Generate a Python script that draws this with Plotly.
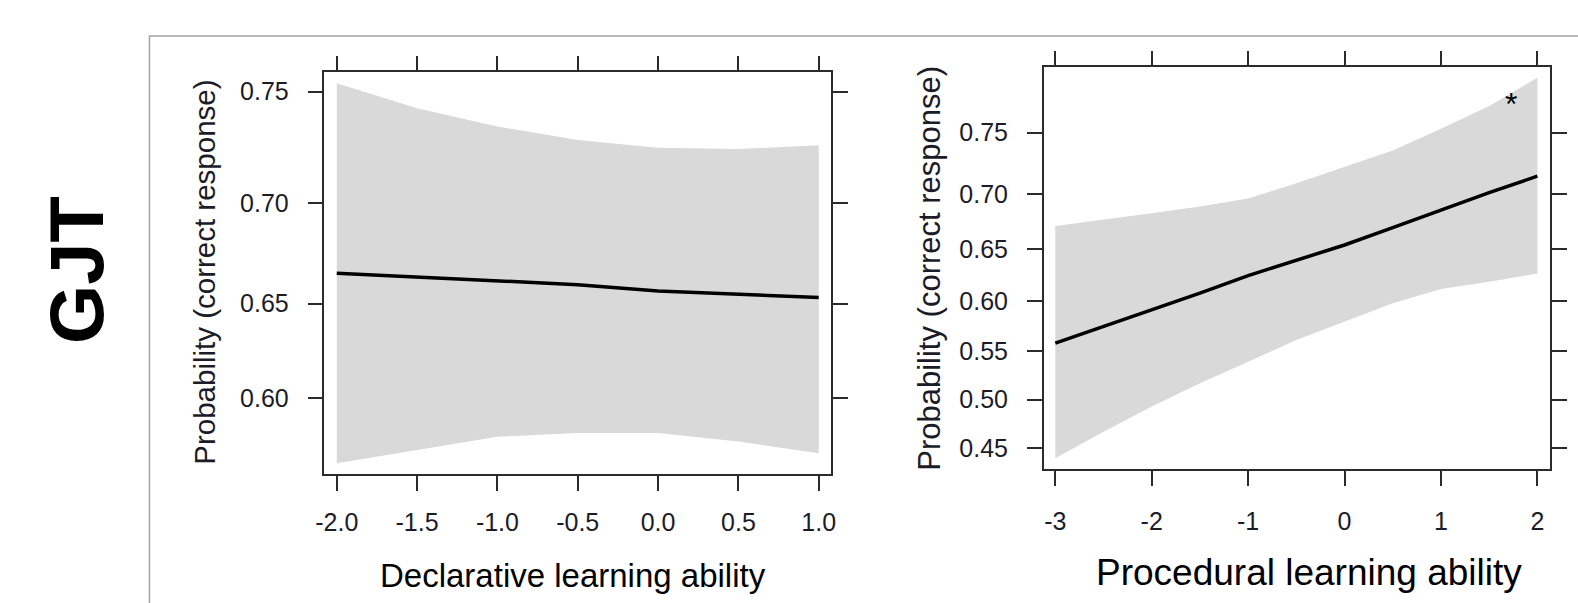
import numpy as np
import plotly.graph_objects as go

# ---- data (probabilities) ----
x_decl = [-2.0, -1.5, -1.0, -0.5, 0.0, 0.5, 1.0]
fit_decl = [0.6655, 0.6635, 0.6617, 0.6597, 0.6565, 0.6548, 0.6531]
upper_decl = [0.7536, 0.7429, 0.7349, 0.7290, 0.7255, 0.7249, 0.7266]
lower_decl = [0.5641, 0.5715, 0.5788, 0.5809, 0.5809, 0.5761, 0.5696]

x_proc = [-3.0, -2.5, -2.0, -1.5, -1.0, -0.5, 0.0, 0.5, 1.0, 1.5, 2.0]
fit_proc = [0.558, 0.575, 0.591, 0.608, 0.625, 0.640, 0.654, 0.670, 0.686, 0.701, 0.715]
upper_proc = [0.6715, 0.677, 0.683, 0.689, 0.696, 0.709, 0.723, 0.736, 0.753, 0.770, 0.790]
lower_proc = [0.440, 0.467, 0.493, 0.517, 0.539, 0.561, 0.580, 0.598, 0.612, 0.619, 0.627]

xticks_decl = [-2.0, -1.5, -1.0, -0.5, 0.0, 0.5, 1.0]
xticklabels_decl = ["-2.0", "-1.5", "-1.0", "-0.5", "0.0", "0.5", "1.0"]
yticks_decl = [0.60, 0.65, 0.70, 0.75]
xticks_proc = [-3, -2, -1, 0, 1, 2]
yticks_proc = [0.45, 0.50, 0.55, 0.60, 0.65, 0.70, 0.75]

star_x, star_p = 1.73, 0.777


def logit(p):
    p = np.asarray(p, dtype=float)
    return np.log(p / (1 - p))


W, H = 1578, 603
BAND = "#d9d9d9"
AX = "#2b2b2b"
FONT = "Liberation Sans, Arial, sans-serif"
TXT = "#1c1c28"

fig = go.Figure()


def add_panel(xs, fit, lo, hi, xa, ya):
    xs = list(xs)
    fig.add_trace(go.Scatter(
        x=xs + xs[::-1],
        y=list(logit(hi)) + list(logit(lo))[::-1],
        fill="toself", fillcolor=BAND, line=dict(width=0),
        mode="lines", hoverinfo="skip", showlegend=False,
        xaxis=xa, yaxis=ya))
    fig.add_trace(go.Scatter(
        x=xs, y=logit(fit), mode="lines",
        line=dict(color="black", width=3.5),
        showlegend=False, xaxis=xa, yaxis=ya))


add_panel(x_decl, fit_decl, lower_decl, upper_decl, "x", "y")
add_panel(x_proc, fit_proc, lower_proc, upper_proc, "x2", "y2")


def px2x(px):
    return px / W


def px2y(py):
    return 1 - py / H


common = dict(showline=True, linecolor=AX, linewidth=1.5, mirror="ticks",
              ticks="outside", ticklen=15, tickwidth=1.5, tickcolor=AX,
              showgrid=False, zeroline=False,
              tickfont=dict(family=FONT, size=25, color=TXT))

fig.update_layout(
    width=W, height=H, margin=dict(l=0, r=0, t=0, b=0),
    paper_bgcolor="white", plot_bgcolor="white",
    xaxis=dict(domain=[px2x(318.3), px2x(829.3)], range=[-2.0765, 1.076],
               tickvals=xticks_decl, ticktext=xticklabels_decl,
               ticklabelstandoff=10, anchor="y", **common),
    yaxis=dict(domain=[px2y(474), px2y(72.3)], range=[0.2335, 1.1425],
               tickvals=list(logit(yticks_decl)),
               ticktext=[f"{v:.2f}" for v in yticks_decl],
               ticklabelstandoff=14, anchor="x", **common),
    xaxis2=dict(domain=[px2x(1044), px2x(1554.7)], range=[-3.12, 2.13],
                tickvals=xticks_proc, ticktext=[str(v) for v in xticks_proc],
                ticklabelstandoff=14, anchor="y2", **common),
    yaxis2=dict(domain=[px2y(469), px2y(67.3)], range=[-0.2852, 1.3679],
                tickvals=list(logit(yticks_proc)),
                ticktext=[f"{v:.2f}" for v in yticks_proc],
                ticklabelstandoff=14, anchor="x2", **common),
)

# outer grey frame
fig.add_shape(type="rect", xref="paper", yref="paper",
              x0=px2x(141.7), x1=1.02, y0=-0.02, y1=px2y(36),
              line=dict(color="#a3a3a3", width=1.5), fillcolor="rgba(0,0,0,0)",
              layer="below")

ann = [
    dict(text="<b>GJT</b>", x=px2x(67.5), y=px2y(270), textangle=-90,
         font=dict(family=FONT, size=76, color="black")),
    dict(text="Probability (correct response)", x=px2x(197.5), y=px2y(272),
         textangle=-90, font=dict(family=FONT, size=29.5, color=TXT)),
    dict(text="Probability (correct response)", x=px2x(928), y=px2y(268),
         textangle=-90, font=dict(family=FONT, size=31, color=TXT)),
    dict(text="Declarative learning ability", x=px2x(569), y=px2y(575),
         font=dict(family=FONT, size=33, color="black")),
    dict(text="Procedural learning ability", x=px2x(1312), y=px2y(572),
         font=dict(family=FONT, size=37, color="black")),
]
for a in ann:
    fig.add_annotation(xref="paper", yref="paper", showarrow=False,
                       xanchor="center", yanchor="middle", **a)

fig.add_annotation(xref="x2", yref="y2", x=star_x, y=float(logit(star_p)),
                   text="*", showarrow=False, yshift=-8,
                   font=dict(family=FONT, size=32, color="black"))

fig.write_html("out.html",
               config={"displayModeBar": False},
               post_script="document.body.style.margin='0';"
                           "document.body.style.overflow='hidden';")
